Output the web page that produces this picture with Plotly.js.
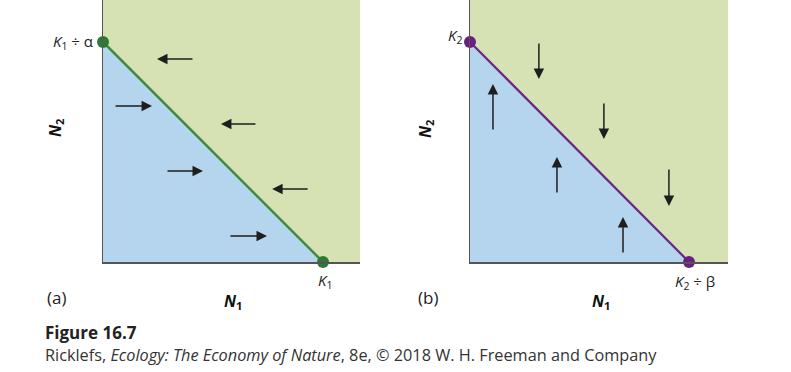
<!DOCTYPE html>
<html><head><meta charset="utf-8">
<script src="https://cdn.plot.ly/plotly-3.0.1.min.js"></script>
<style>html,body{margin:0;padding:0;background:#fff}</style>
</head><body><div id="chart" style="width:791px;height:372px"></div>
<script>
// Isocline intercepts (axis units 0-100)
const isoA_x = [0, 85.6];   // (0, K1/alpha) -> (K1, 0)
const isoA_y = [84, 0];
const isoB_x = [0, 84.9];   // (0, K2) -> (K2/beta, 0)
const isoB_y = [84, 0];

// Arrows, panel (a): tails and heads
const arrA_tailX = [35.4, 4.3, 59.9, 24.5, 80.2, 49.0];
const arrA_tailY = [77.5, 59.5, 52.7, 34.7, 27.9, 9.9];
const arrA_headX = [21.0, 19.1, 45.9, 38.9, 65.8, 63.8];
const arrA_headY = [77.5, 59.5, 52.7, 34.7, 27.9, 9.9];

// Arrows, panel (b)
const arrB_tailX = [26.7, 8.9, 51.9, 33.7, 77.1, 59.3];
const arrB_tailY = [84.0, 50.0, 61.1, 26.0, 35.9, 3.1];
const arrB_headX = [26.7, 8.9, 51.9, 33.7, 77.1, 59.3];
const arrB_headY = [69.8, 67.9, 46.9, 40.1, 21.4, 17.2];

const GREEN_BG = '#d6e2b4', BLUE = '#b5d4ee';
const GREEN_LINE = '#3e8a3e', GREEN_DOT = '#2e7a35';
const PURPLE_LINE = '#6b2682', PURPLE_DOT = '#6a1f80';
const FONT = 'Open Sans, Noto Sans, sans-serif';

function tri(x, y, xa, ya) {
  return {x: [x[0], x[0], x[1], x[0]], y: [0, y[0], y[1], 0], xaxis: xa, yaxis: ya,
    mode: 'lines', fill: 'toself', fillcolor: BLUE, line: {width: 0}, hoverinfo: 'skip', showlegend: false};
}
function iso(x, y, xa, ya, lc, dc, lw) {
  return {x: x, y: y, xaxis: xa, yaxis: ya, mode: 'lines+markers', cliponaxis: false,
    line: {color: lc, width: lw}, marker: {color: dc, size: 12}, showlegend: false, hoverinfo: 'skip'};
}
const data = [
  tri(isoA_x, isoA_y, 'x', 'y'),
  iso(isoA_x, isoA_y, 'x', 'y', GREEN_LINE, GREEN_DOT, 2.5),
  tri(isoB_x, isoB_y, 'x2', 'y2'),
  iso(isoB_x, isoB_y, 'x2', 'y2', PURPLE_LINE, PURPLE_DOT, 2.2)
];

const ann = [];
function arrows(tx, ty, hx, hy, xr, yr) {
  for (let i = 0; i < tx.length; i++) {
    ann.push({x: hx[i], y: hy[i], ax: tx[i], ay: ty[i], xref: xr, yref: yr, axref: xr, ayref: yr,
      text: '', showarrow: true, arrowhead: 2, arrowsize: 1.4, arrowwidth: 1.5, arrowcolor: '#1e1e1e', standoff: 0});
  }
}
arrows(arrA_tailX, arrA_tailY, arrA_headX, arrA_headY, 'x', 'y');
arrows(arrB_tailX, arrB_tailY, arrB_headX, arrB_headY, 'x2', 'y2');

const lf = {family: FONT, size: 15, color: '#222'};
// point labels
ann.push({x: isoA_x[0], y: isoA_y[0], xref: 'x', yref: 'y', text: '<i>K</i><sub>1</sub> ÷ α', showarrow: false,
  xanchor: 'right', yanchor: 'middle', xshift: -8, font: lf});
ann.push({x: isoA_x[1], y: isoA_y[1], xref: 'x', yref: 'y', text: '<i>K</i><sub>1</sub>', showarrow: false,
  xanchor: 'center', yanchor: 'middle', yshift: -19, xshift: 2, font: lf});
ann.push({x: isoB_x[0], y: isoB_y[0], xref: 'x2', yref: 'y2', text: '<i>K</i><sub>2</sub>', showarrow: false,
  xanchor: 'right', yanchor: 'middle', xshift: -6, yshift: 6, font: lf});
ann.push({x: isoB_x[1], y: isoB_y[1], xref: 'x2', yref: 'y2', text: '<i>K</i><sub>2</sub> ÷ β', showarrow: false,
  xanchor: 'center', yanchor: 'middle', yshift: -20, xshift: 6, font: lf});

function P(px, py, text, opts) {
  ann.push(Object.assign({x: px / 791, y: 1 - py / 372, xref: 'paper', yref: 'paper', text: text,
    showarrow: false, xanchor: 'center', yanchor: 'middle', font: lf}, opts || {}));
}
const bf = {family: FONT, size: 16, color: '#111', weight: 'bold'};
P(56, 297, '(a)', {font: {family: FONT, size: 17, color: '#222'}});
P(428, 297, '(b)', {font: {family: FONT, size: 17, color: '#222'}});
P(233, 301, '<b><i>N</i><sub>1</sub></b>', {font: bf});
P(601, 301, '<b><i>N</i><sub>1</sub></b>', {font: bf});
P(55, 128, '<b><i>N</i><sub>2</sub></b>', {font: bf, textangle: -90});
P(425, 128, '<b><i>N</i><sub>2</sub></b>', {font: bf, textangle: -90});
P(43, 332, '<b>Figure 16.7</b>', {xanchor: 'left', font: {family: FONT, size: 17, color: '#222'}});
P(43, 355, 'Ricklefs, <i>Ecology: The Economy of Nature</i>, 8e, © 2018 W. H. Freeman and Company',
  {xanchor: 'left', font: {family: FONT, size: 16.3, color: '#333'}});

function ax(domain, range) {
  return {domain: domain, range: range, showline: true, linecolor: '#555', linewidth: 1.5,
    showgrid: false, zeroline: false, ticks: '', showticklabels: false, fixedrange: true};
}
const layout = {
  width: 791, height: 372, margin: {l: 0, r: 0, t: 0, b: 0},
  paper_bgcolor: '#fff', plot_bgcolor: GREEN_BG, showlegend: false,
  xaxis: ax([103 / 791, 360 / 791], [0, 100]),
  yaxis: Object.assign(ax([110 / 372, 1], [0, 100]), {anchor: 'x'}),
  xaxis2: Object.assign(ax([470 / 791, 728 / 791], [0, 100]), {anchor: 'y2'}),
  yaxis2: Object.assign(ax([110 / 372, 1], [0, 100]), {anchor: 'x2'}),
  annotations: ann
};
layout.xaxis.anchor = 'y';
Plotly.newPlot('chart', data, layout, {displayModeBar: false, staticPlot: true});
</script></body></html>
